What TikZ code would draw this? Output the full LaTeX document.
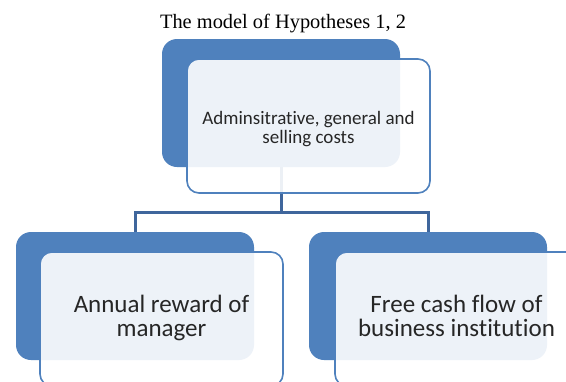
\documentclass[tikz,border=0pt]{standalone}
\usepackage{fontspec}
\setmainfont{Liberation Serif}
\newfontfamily\boxfont[Ligatures=NoCommon]{Carlito}
\definecolor{accent}{HTML}{4F81BD}
\definecolor{linkblue}{HTML}{3F669C}
\begin{document}
\begin{tikzpicture}[x=1pt,y=-1pt,
  backbox/.style={fill=accent, draw=none, rounded corners=15pt,
    minimum width=238pt, minimum height=128pt, inner sep=0pt},
  frontbox/.style={fill=white, fill opacity=0.9,
    draw=accent, line width=1.6pt, rounded corners=12pt,
    minimum width=243pt, minimum height=134pt, inner sep=0pt},
  boxlabel/.style={align=center, inner sep=0pt, text=black!85, anchor=base},
  link/.style={draw=linkblue, line width=3pt}]
  \clip (0,0) rectangle (566,381);
  \fill[white] (0,0) rectangle (566,381);
  % heading
  \node[font=\fontsize{20.4}{24}\selectfont, anchor=base, inner sep=0pt]
    (title) at (283,28) {The model of Hypotheses 1, 2};
  % coloured backing shapes
  \node[backbox] (tb) at (281,103) {};
  \node[backbox] (lb) at (135,296) {};
  \node[backbox] (rb) at (428,296) {};
  % tree connectors
  \coordinate (j) at (281,212);
  \draw[link] (tb.south) -- (j);
  \draw[link] (lb.north) |- (j) -| (rb.north);
  % translucent panels
  \node[frontbox] (tw) at (308.5,126) {};
  \node[frontbox] (lw) at (161.5,319) {};
  \node[frontbox] (rw) at (456.5,319) {};
  % panel texts, placed by the baseline of their last line
  \node[boxlabel, font=\boxfont\fontsize{19}{19}\selectfont]
    (tt) at (308.5,143.3) {Adminsitrative, general and\\selling costs};
  \node[boxlabel, font=\boxfont\fontsize{25}{23.5}\selectfont]
    (lt) at (161.5,336) {Annual reward of\\manager};
  \node[boxlabel, font=\boxfont\fontsize{25}{23.5}\selectfont]
    (rt) at (456.5,336) {Free cash flow of\\business institution};
\end{tikzpicture}
\end{document}
